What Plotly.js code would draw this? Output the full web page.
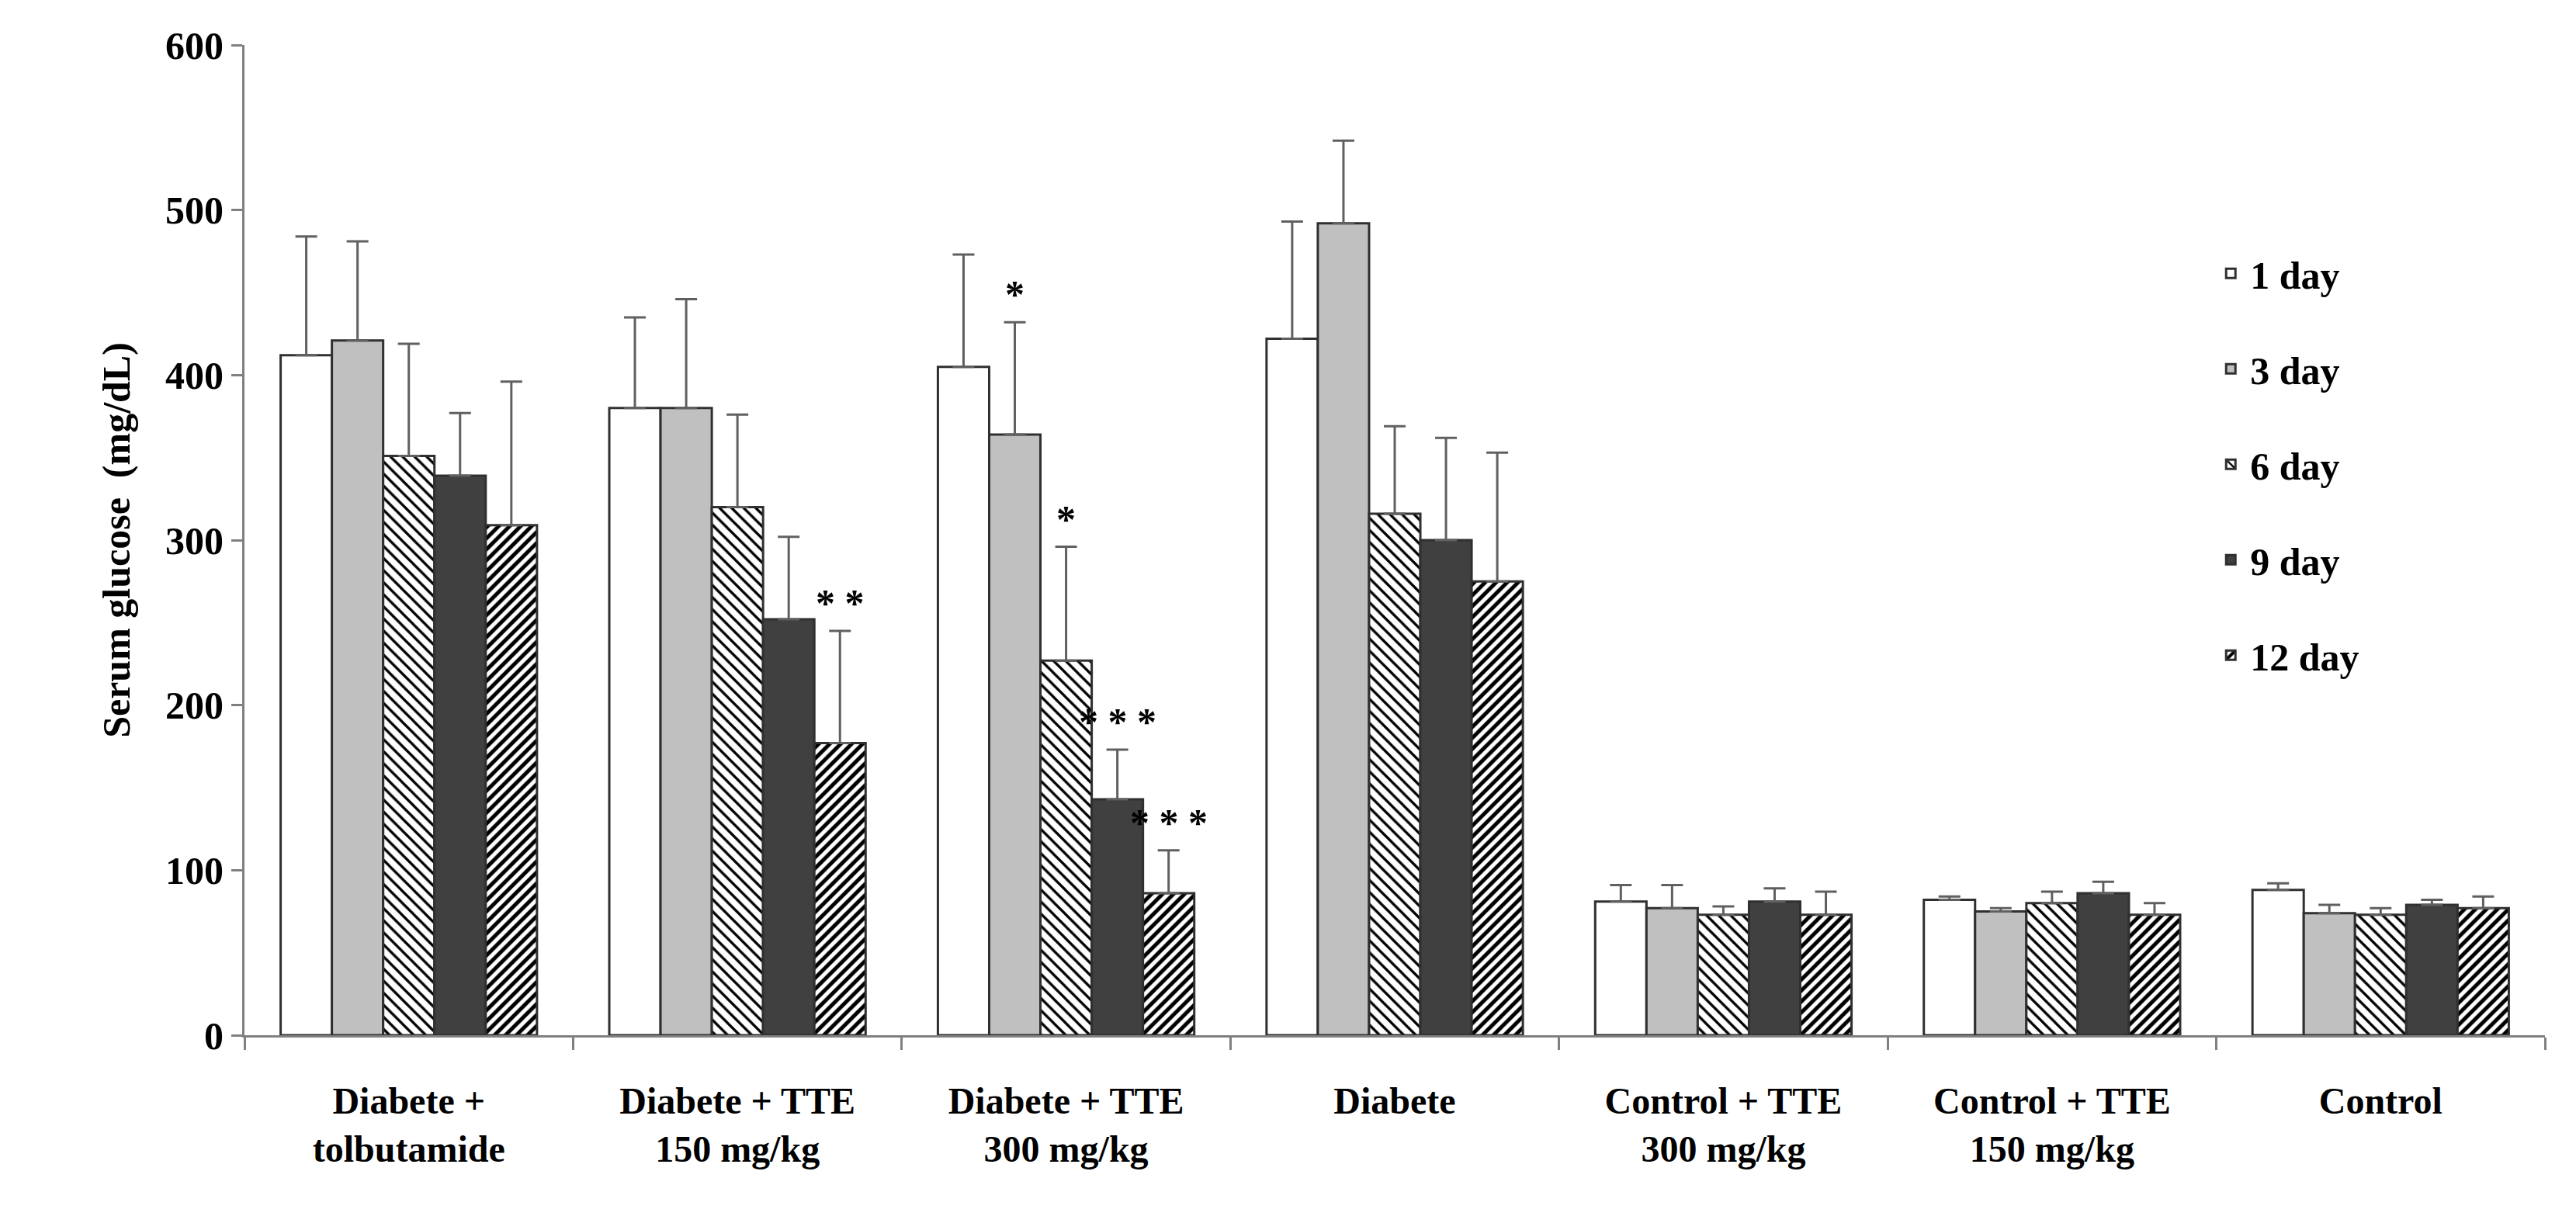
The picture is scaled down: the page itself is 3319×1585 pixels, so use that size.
<!DOCTYPE html>
<html>
<head>
<meta charset="utf-8">
<script src="https://cdn.plot.ly/plotly-3.0.1.min.js"></script>
<style>body{margin:0;background:#fff}#graph{width:3319px;height:1585px}</style>
</head>
<body>
<div id="graph"></div>
<script>
const groups = ['Diabete +<br>tolbutamide', 'Diabete + TTE<br>150 mg/kg', 'Diabete + TTE<br>300 mg/kg',
    'Diabete', 'Control + TTE<br>300 mg/kg', 'Control + TTE<br>150 mg/kg', 'Control'];
const seriesNames = ['1 day', '3 day', '6 day', '9 day', '12 day'];
const day1 = [412, 380, 405, 422, 81, 82, 88];
const day3 = [421, 380, 364, 492, 77, 75, 74];
const day6 = [351, 320, 227, 316, 73, 80, 73];
const day9 = [339, 252, 143, 300, 81, 86, 79];
const day12 = [309, 177, 86, 275, 73, 73, 77];
const err1 = [72, 55, 68, 71, 10, 2, 4];
const err3 = [60, 66, 68, 50, 14, 2, 5];
const err6 = [68, 56, 69, 53, 5, 7, 4];
const err9 = [38, 50, 30, 62, 8, 7, 3];
const err12 = [87, 68, 26, 78, 14, 7, 7];
// significance marks: [group index, series index, text]
const stars = [[1, 4, '* *'], [2, 1, '*'], [2, 2, '*'], [2, 3, '* * *'], [2, 4, '* * *']];

const values = [day1, day3, day6, day9, day12];
const errors = [err1, err3, err6, err9, err12];
const fills = [
    {color: '#ffffff'},
    {color: '#c0c0c0'},
    {color: '#ffffff', pattern: {shape: '\\', fgcolor: '#000', bgcolor: '#fff', size: 11, solidity: 0.3}},
    {color: '#404040'},
    {color: '#ffffff', pattern: {shape: '/', fgcolor: '#000', bgcolor: '#fff', size: 10, solidity: 0.5}}
];

const traces = values.map((v, i) => ({
    type: 'bar',
    name: seriesNames[i],
    legendgroup: 'g' + i,
    x: groups,
    y: v,
    marker: Object.assign({line: {color: '#303030', width: 3}}, fills[i]),
    error_y: {type: 'data', symmetric: false, array: errors[i], arrayminus: v.map(() => 0),
        color: '#606060', thickness: 3, width: 14}
}));

const barW = 0.78 / 5;
const annotations = stars.map(([g, s, t]) => ({
    x: g + (s - 2) * barW, y: values[s][g] + errors[s][g], yanchor: 'bottom', yshift: 6,
    text: t, showarrow: false, font: {size: 50, color: '#000', weight: 'bold'}
}));

const layout = {
    width: 3319, height: 1585,
    margin: {l: 315, r: 40, t: 58, b: 251},
    barmode: 'group', bargap: 0.22, bargroupgap: 0,
    font: {family: 'Liberation Serif, Times New Roman, serif', size: 48, color: '#000'},
    paper_bgcolor: '#fff', plot_bgcolor: '#fff',
    showlegend: true,
    legend: {x: 0.855, y: 0.8, xanchor: 'left', yanchor: 'top', traceorder: 'grouped',
        font: {size: 50, weight: 'bold'}, tracegroupgap: 55, itemwidth: 40},
    xaxis: {type: 'category', showline: true, linecolor: '#808080', linewidth: 3,
        ticks: 'outside', tickson: 'boundaries', ticklen: 16, tickcolor: '#808080', tickwidth: 3,
        ticklabelstandoff: 40, tickfont: {size: 48, weight: 'bold'}},
    yaxis: {range: [0, 600], dtick: 100, showline: true, linecolor: '#808080', linewidth: 3,
        ticks: 'outside', ticklen: 14, tickcolor: '#808080', tickwidth: 3, showgrid: false,
        zeroline: false, tickfont: {size: 50, weight: 'bold'},
        title: {text: 'Serum glucose  (mg/dL)', font: {size: 50, weight: 'bold'}, standoff: 30}},
    annotations: annotations
};

Plotly.newPlot('graph', traces, layout, {displayModeBar: false});
</script>
</body>
</html>
